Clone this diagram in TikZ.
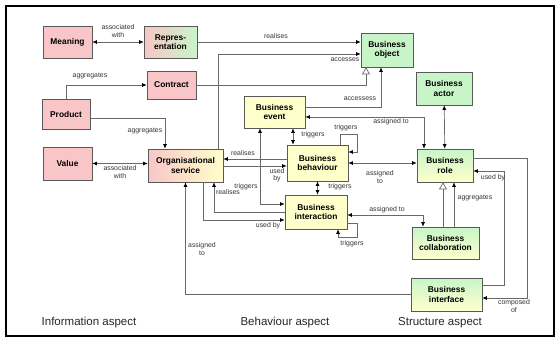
\documentclass[tikz,border=0pt]{standalone}
\usepackage{fontspec}
\setmainfont{Liberation Sans}
\usepackage{tikz}
\usetikzlibrary{arrows.meta, positioning, calc}
\definecolor{infopink}{RGB}{248,198,198}
\definecolor{behyellow}{RGB}{255,255,204}
\definecolor{strgreen}{RGB}{200,245,200}
\definecolor{linegray}{RGB}{105,105,105}

\begin{document}
\begin{tikzpicture}[x=1pt, y=-1pt,
		>={Latex[length=4.5pt, width=4pt, color=black]},
		box/.style={draw=black!65, line width=0.6pt, align=center, inner sep=1pt,
			font=\fontsize{8.4}{9.6}\selectfont\bfseries},
		infobox/.style={box, fill=infopink},
		behbox/.style={box, fill=behyellow},
		strbox/.style={box, fill=strgreen},
		strgrad/.style={box, top color=strgreen, bottom color=behyellow},
		con/.style={draw=linegray, line width=0.7pt},
		spec/.style={con, -{Triangle[open, length=7pt, width=8pt, color=linegray]}},
		lbl/.style={font=\fontsize{6.9}{7.4}\selectfont, text=black!80, align=center, inner sep=0.5pt},
		aspect/.style={font=\fontsize{11.5}{13}\selectfont, text=black!85}]

		\useasboundingbox (0,0) rectangle (560,343);
		\draw [line width=2pt] (6,5.5) rectangle (554,335.5);

		% information aspect
		\node [infobox, minimum width=49, minimum height=32] (meaning) at (67.5,42) {Meaning};
		\node [box, left color=infopink, right color=strgreen, minimum width=53, minimum height=32] (repr) at (170.5,42) {Repres-\\entation};
		\node [infobox, minimum width=49, minimum height=28] (contract) at (171.5,85) {Contract};
		\node [infobox, minimum width=48, minimum height=30] (product) at (66,114) {Product};
		\node [infobox, minimum width=49, minimum height=33] (value) at (67.5,163.5) {Value};

		% behaviour aspect
		\node [box, left color=infopink, right color=behyellow, minimum width=75, minimum height=33] (orgsvc) at (185.5,165.5) {Organisational\\service};
		\node [behbox, minimum width=61, minimum height=32] (event) at (274.5,112) {Business\\event};
		\node [behbox, minimum width=61, minimum height=36] (behav) at (317.5,163) {Business\\behaviour};
		\node [behbox, minimum width=62, minimum height=34] (interact) at (316,212) {Business\\interaction};

		% structure aspect
		\node [strbox, minimum width=52, minimum height=34] (bobject) at (387,50) {Business\\object};
		\node [strbox, minimum width=56, minimum height=33] (actor) at (444,88.5) {Business\\actor};
		\node [strgrad, minimum width=56, minimum height=33] (role) at (445,165.5) {Business\\role};
		\node [strgrad, minimum width=67, minimum height=32] (collab) at (445.5,243) {Business\\collaboration};
		\node [strgrad, minimum width=71, minimum height=33] (iface) at (446.5,294.5) {Business\\interface};

		\draw [con, <->] (meaning) -- (repr);
		\draw [con, ->] (repr.east) -- (repr.east -| bobject.west);
		\draw [con, ->] ([xshift=-5pt]orgsvc.north east) |- ([yshift=-4pt]bobject.west);
		\draw [spec] (contract.east) -| ([xshift=-21pt]bobject.south);
		\draw [con, ->] ([yshift=5pt]event.east) -| ([xshift=-6pt]bobject.south);
		\draw [con, <->] ([yshift=-5pt]event.east) -| ([xshift=-21pt]role.north);
		\draw [con, <->] (actor) -- (role);
		\draw [con, <->] ([xshift=-24.5pt]behav.north) -- ([xshift=-24.5pt]behav.north |- event.south);
		\draw [con, ->] ([xshift=22.5pt]behav.north) |- ++(17,-10) |- ([yshift=11pt]behav.east);
		\draw [con, <->] (behav.south) -- (behav.south |- interact.north);
		\draw [con, ->] ([yshift=-11pt]interact.east) -| ++(10,14) -| ([xshift=22pt]interact.south);
		\draw [con, <->] (behav.east) -- (behav.east -| role.west);
		\draw [con, <->] ([yshift=-3pt]interact.east) -| ([xshift=-22.5pt]collab.north);
		\draw [spec] ([xshift=-2.5pt]collab.north) -- ([xshift=-2.5pt]collab.north |- role.south);
		\draw [con, ->] ([xshift=8.5pt]collab.north) -- ([xshift=8.5pt]collab.north |- role.south);
		\draw [con, ->] ([yshift=9.5pt]iface.east) -| ([xshift=31pt, yshift=-5.5pt]role.east) -- ([yshift=-5.5pt]role.east);
		\draw [con, ->] ([yshift=7.5pt]role.east) -| ([xshift=45pt, yshift=-3.5pt]iface.east) -- ([yshift=-3.5pt]iface.east);
		\draw [con, ->] (iface.west) -| (orgsvc.south);
		\draw [con, <->] (value.east) -- (value.east -| orgsvc.west);
		\draw [con, ->] (product.north) |- (contract.west);
		\draw [con, ->] ([yshift=-4pt]product.east) -| ([xshift=-20.5pt]orgsvc.north);
		\draw [con, ->] ([yshift=4pt]behav.west) -- ([yshift=4pt]behav.west -| orgsvc.east);
		\draw [con, ->] ([yshift=-3pt]behav.west -| orgsvc.east) -- ([yshift=-3pt]behav.west);
		\draw [con, ->] (interact.west) -| ([xshift=28.5pt]orgsvc.south);
		\draw [con, ->] ([xshift=17.5pt]orgsvc.south) |- ([yshift=-8pt]interact.west);
		\draw [con, <->] ([xshift=-14.5pt]event.south) |- ([yshift=8pt]interact.west);

		\node [lbl] (lassoc) at (118,31) {associated\\with};
		\node [lbl] (lrealrepr) at (276,36) {realises};
		\node [lbl] (lacc) at (345,60) {accesses};
		\node [lbl] (laccev) at (360,99) {accessess};
		\node [lbl] (lassev) at (391,122) {assigned to};
		\node [lbl] (ltrigev) at (313,135) {triggers};
		\node [lbl] (ltrigself) at (346,128) {triggers};
		\node [lbl] (ltrigint) at (340,187) {triggers};
		\node [lbl] (ltrigintself) at (352,244) {triggers};
		\node [lbl] (lassbeh) at (380,177) {assigned\\to};
		\node [lbl] (lassint) at (387,210) {assigned to};
		\node [lbl] (laggrole) at (475,198) {aggregates};
		\node [lbl] (lused) at (493,178) {used by};
		\node [lbl] (lcomp) at (514,306) {composed\\of};
		\node [lbl] (lassif) at (202,249) {assigned\\to};
		\node [lbl] (lassval) at (120,172) {associated\\with};
		\node [lbl] (laggcon) at (90,76) {aggregates};
		\node [lbl] (laggorg) at (145,131) {aggregates};
		\node [lbl] (lrealbeh) at (243,153) {realises};
		\node [lbl] (lusedbeh) at (277,175) {used\\by};
		\node [lbl] (lrealint) at (228,192) {realises};
		\node [lbl] (lusedint) at (268,226) {used by};
		\node [lbl] (ltrigorg) at (246,187) {triggers};

		\node [aspect] (ainfo) at (89,323) {Information aspect};
		\node [aspect] (abeh) at (285,323) {Behaviour aspect};
		\node [aspect] (astr) at (440,323) {Structure aspect};
	\end{tikzpicture}
\end{document}
